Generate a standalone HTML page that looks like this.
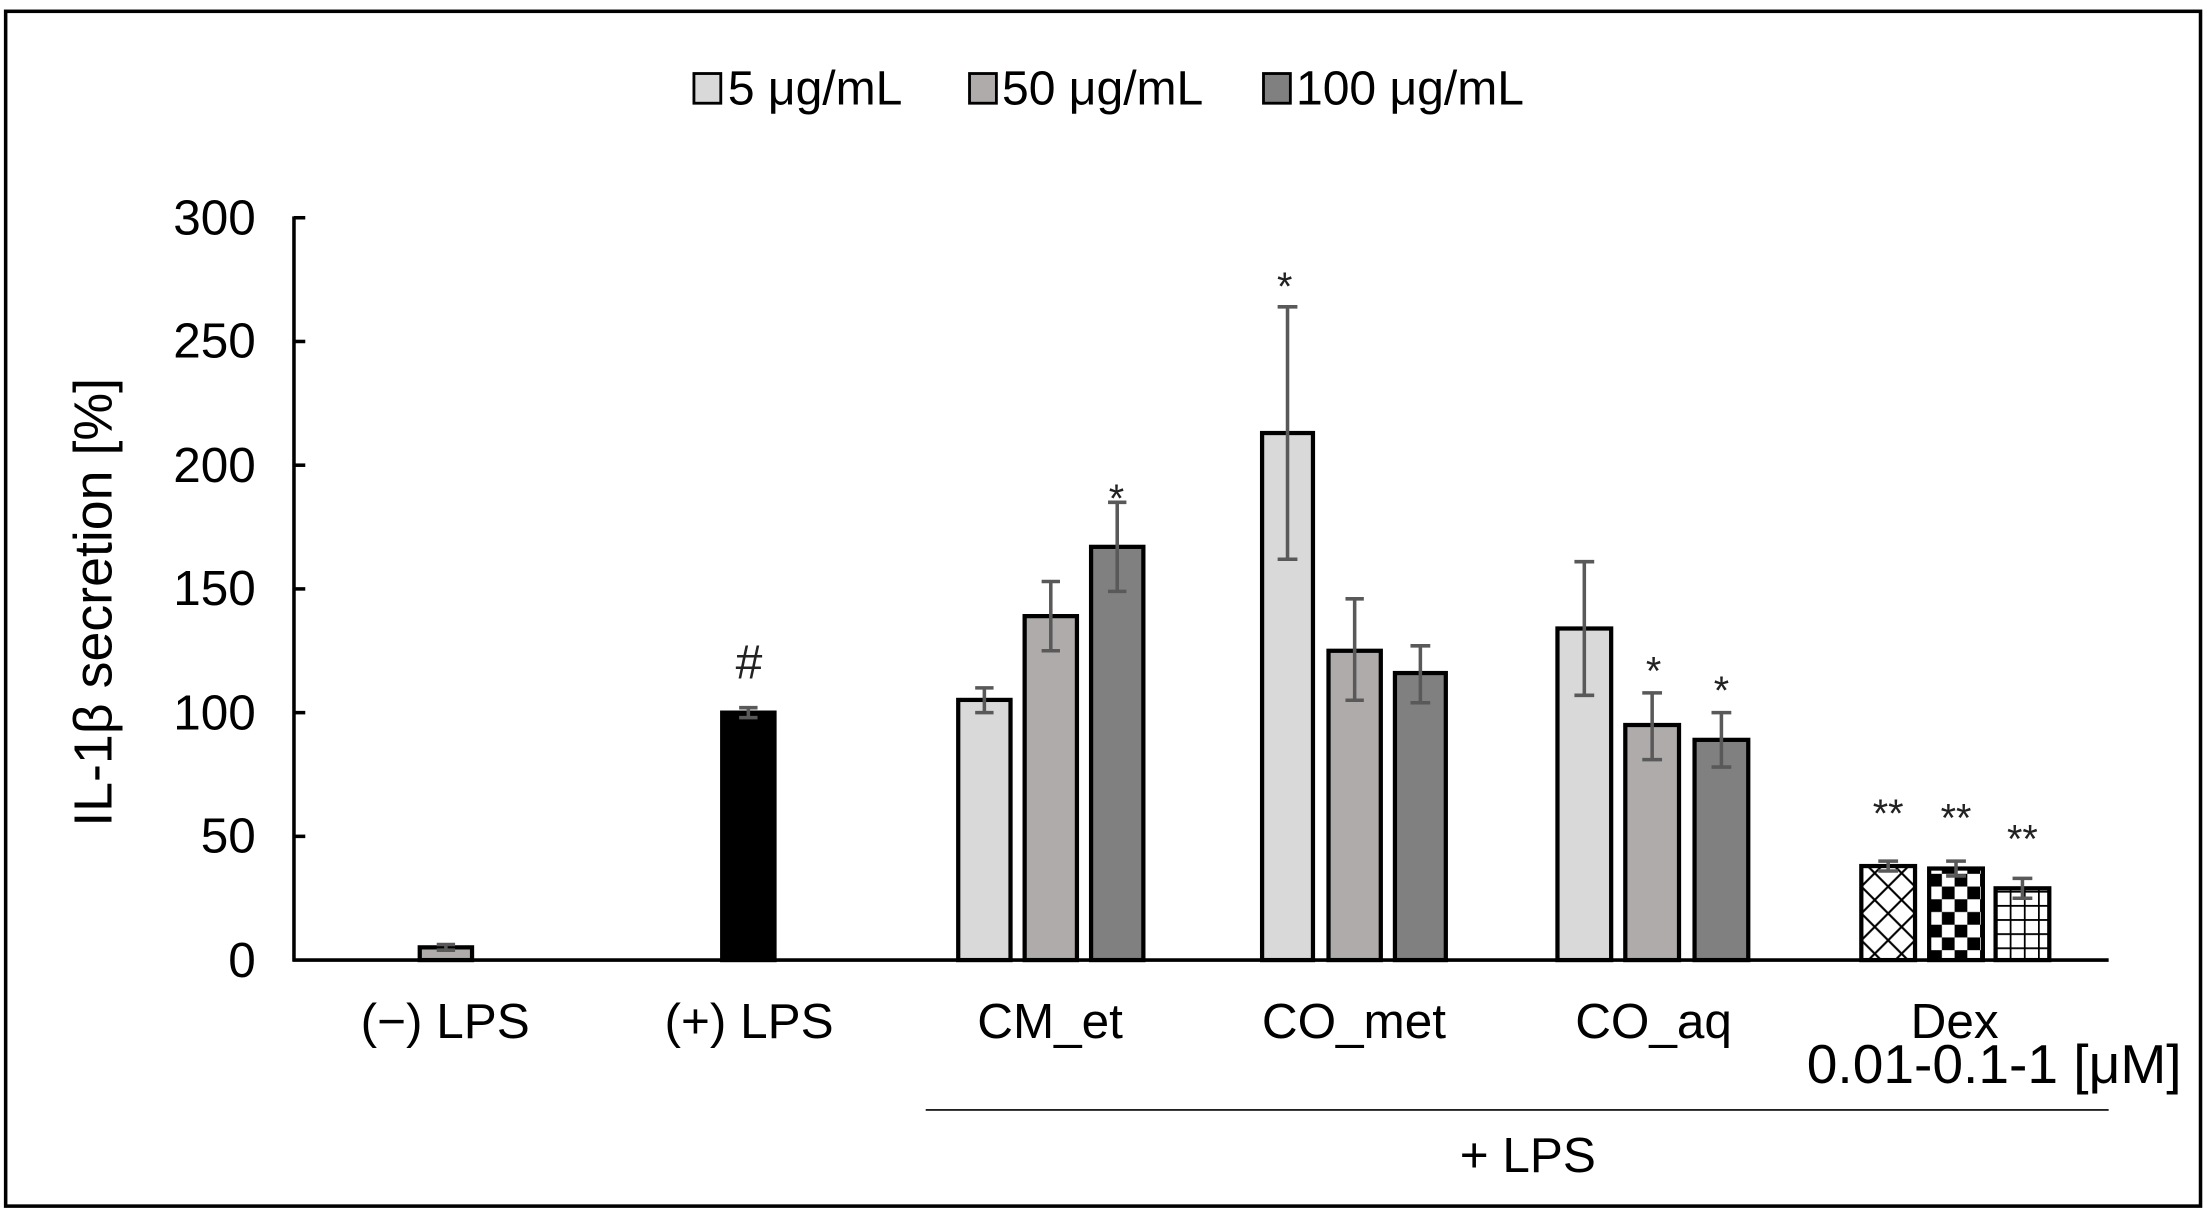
<!DOCTYPE html>
<html><head><meta charset="utf-8"><style>html,body{margin:0;padding:0;background:#fff}svg{display:block}</style></head>
<body>
<svg width="2209" height="1216" viewBox="0 0 1563 860" preserveAspectRatio="none" xmlns="http://www.w3.org/2000/svg" font-family="Liberation Sans, sans-serif">
<defs>
<pattern id="p1" width="19" height="19" patternUnits="userSpaceOnUse" x="1317" y="0">
<rect width="19" height="19" fill="#fff"/>
<path d="M0 0L19 19M19 0L0 19" stroke="#000" stroke-width="1.5"/>
</pattern>
<pattern id="p2" width="18" height="18" patternUnits="userSpaceOnUse" x="1365" y="600">
<rect width="18" height="18" fill="#fff"/>
<rect width="9" height="9" fill="#000"/><rect x="9" y="9" width="9" height="9" fill="#000"/>
</pattern>
<pattern id="p3" width="10" height="10" patternUnits="userSpaceOnUse" x="1412" y="620">
<rect width="10" height="10" fill="#fff"/>
<path d="M0 0H10M0 0V10" stroke="#000" stroke-width="2.5"/>
</pattern>
</defs>
<rect x="4" y="8" width="1553" height="845" fill="#fff" stroke="#000" stroke-width="2.5"/>
<!-- legend -->
<g font-size="34" fill="#000">
<rect x="491" y="52" width="19" height="21" fill="#d9d9d9" stroke="#000" stroke-width="2"/>
<text x="515" y="74">5 μg/mL</text>
<rect x="686" y="52" width="19" height="21" fill="#afabab" stroke="#000" stroke-width="2"/>
<text x="709" y="74">50 μg/mL</text>
<rect x="894" y="52" width="19" height="21" fill="#808080" stroke="#000" stroke-width="2"/>
<text x="917" y="74">100 μg/mL</text>
</g>
<!-- axes -->
<g stroke="#000" stroke-width="2.5">
<line x1="208" y1="153" x2="208" y2="680"/>
<line x1="207" y1="679" x2="1492" y2="679"/>
<line x1="208" y1="154" x2="216" y2="154"/>
<line x1="208" y1="241.5" x2="216" y2="241.5"/>
<line x1="208" y1="329" x2="216" y2="329"/>
<line x1="208" y1="416.5" x2="216" y2="416.5"/>
<line x1="208" y1="504" x2="216" y2="504"/>
<line x1="208" y1="591.5" x2="216" y2="591.5"/>
</g>
<g font-size="35" text-anchor="end">
<text x="181" y="166">300</text><text x="181" y="253">250</text><text x="181" y="341">200</text>
<text x="181" y="428">150</text><text x="181" y="516">100</text><text x="181" y="603">50</text><text x="181" y="691">0</text>
</g>
<text transform="translate(79,426) rotate(-90)" font-size="38" text-anchor="middle">IL-1β secretion [%]</text>
<!-- bars -->
<g stroke="#000" stroke-width="3">
<rect x="297" y="670" width="37" height="9" fill="#afabab"/>
<rect x="511" y="504" width="37" height="175" fill="#000"/>
<rect x="678" y="495" width="37" height="184" fill="#d9d9d9"/>
<rect x="725" y="435.75" width="37" height="243.25" fill="#afabab"/>
<rect x="772" y="386.75" width="37" height="292.25" fill="#808080"/>
<rect x="893" y="306.25" width="36" height="372.75" fill="#d9d9d9"/>
<rect x="940" y="460.25" width="37" height="218.75" fill="#afabab"/>
<rect x="987" y="476" width="36" height="203" fill="#808080"/>
<rect x="1102" y="444.5" width="38" height="234.5" fill="#d9d9d9"/>
<rect x="1150" y="512.75" width="38" height="166.25" fill="#afabab"/>
<rect x="1199" y="523.25" width="38" height="155.75" fill="#808080"/>
<rect x="1317" y="612.5" width="38" height="66.5" fill="url(#p1)"/>
<rect x="1365" y="614.25" width="38" height="64.75" fill="url(#p2)"/>
<rect x="1412" y="628.25" width="38" height="50.75" fill="url(#p3)"/>
</g>
<!-- error bars -->
<g stroke="#595959" stroke-width="2.5" fill="none">
<path d="M315.5 668V672M309 668H322M309 672H322"/>
<path d="M529.5 500.5V507.5M523 500.5H536M523 507.5H536"/>
<path d="M696.5 486.5V504M690 486.5H703M690 504H703"/>
<path d="M743.5 411.25V460.25M737 411.25H750M737 460.25H750"/>
<path d="M790.5 355.25V418.25M784 355.25H797M784 418.25H797"/>
<path d="M911 217V395.5M904 217H918M904 395.5H918"/>
<path d="M958.5 423.5V495.25M952 423.5H965M952 495.25H965"/>
<path d="M1005 456.75V497M998 456.75H1012M998 497H1012"/>
<path d="M1121 397.25V491.75M1114 397.25H1128M1114 491.75H1128"/>
<path d="M1169 490V537.25M1162 490H1176M1162 537.25H1176"/>
<path d="M1218 504V542.5M1211 504H1225M1211 542.5H1225"/>
<path d="M1336 609V616M1329 609H1343M1329 616H1343"/>
<path d="M1384 609V619.5M1377 609H1391M1377 619.5H1391"/>
<path d="M1431 621.25V635.25M1424 621.25H1438M1424 635.25H1438"/>
</g>
<!-- significance -->
<g font-size="28" text-anchor="middle" fill="#222">
<text x="530" y="480" font-size="34">#</text>
<text x="790" y="362">*</text>
<text x="909" y="212">*</text>
<text x="1170" y="484">*</text>
<text x="1218" y="498">*</text>
<text x="1336" y="585">**</text>
<text x="1384" y="588">**</text>
<text x="1431" y="603">**</text>
</g>
<!-- x labels -->
<g font-size="35" text-anchor="middle">
<text x="315" y="734">(−) LPS</text>
<text x="530" y="734">(+) LPS</text>
<text x="743" y="734">CM_et</text>
<text x="958" y="734">CO_met</text>
<text x="1170" y="734">CO_aq</text>
<text x="1383" y="734">Dex</text>
<text x="1411" y="766" font-size="39">0.01-0.1-1 [μM]</text>
<text x="1081" y="829">+ LPS</text>
</g>
<line x1="655" y1="785" x2="1492" y2="785" stroke="#000" stroke-width="1.2"/>
</svg>
</body></html>
